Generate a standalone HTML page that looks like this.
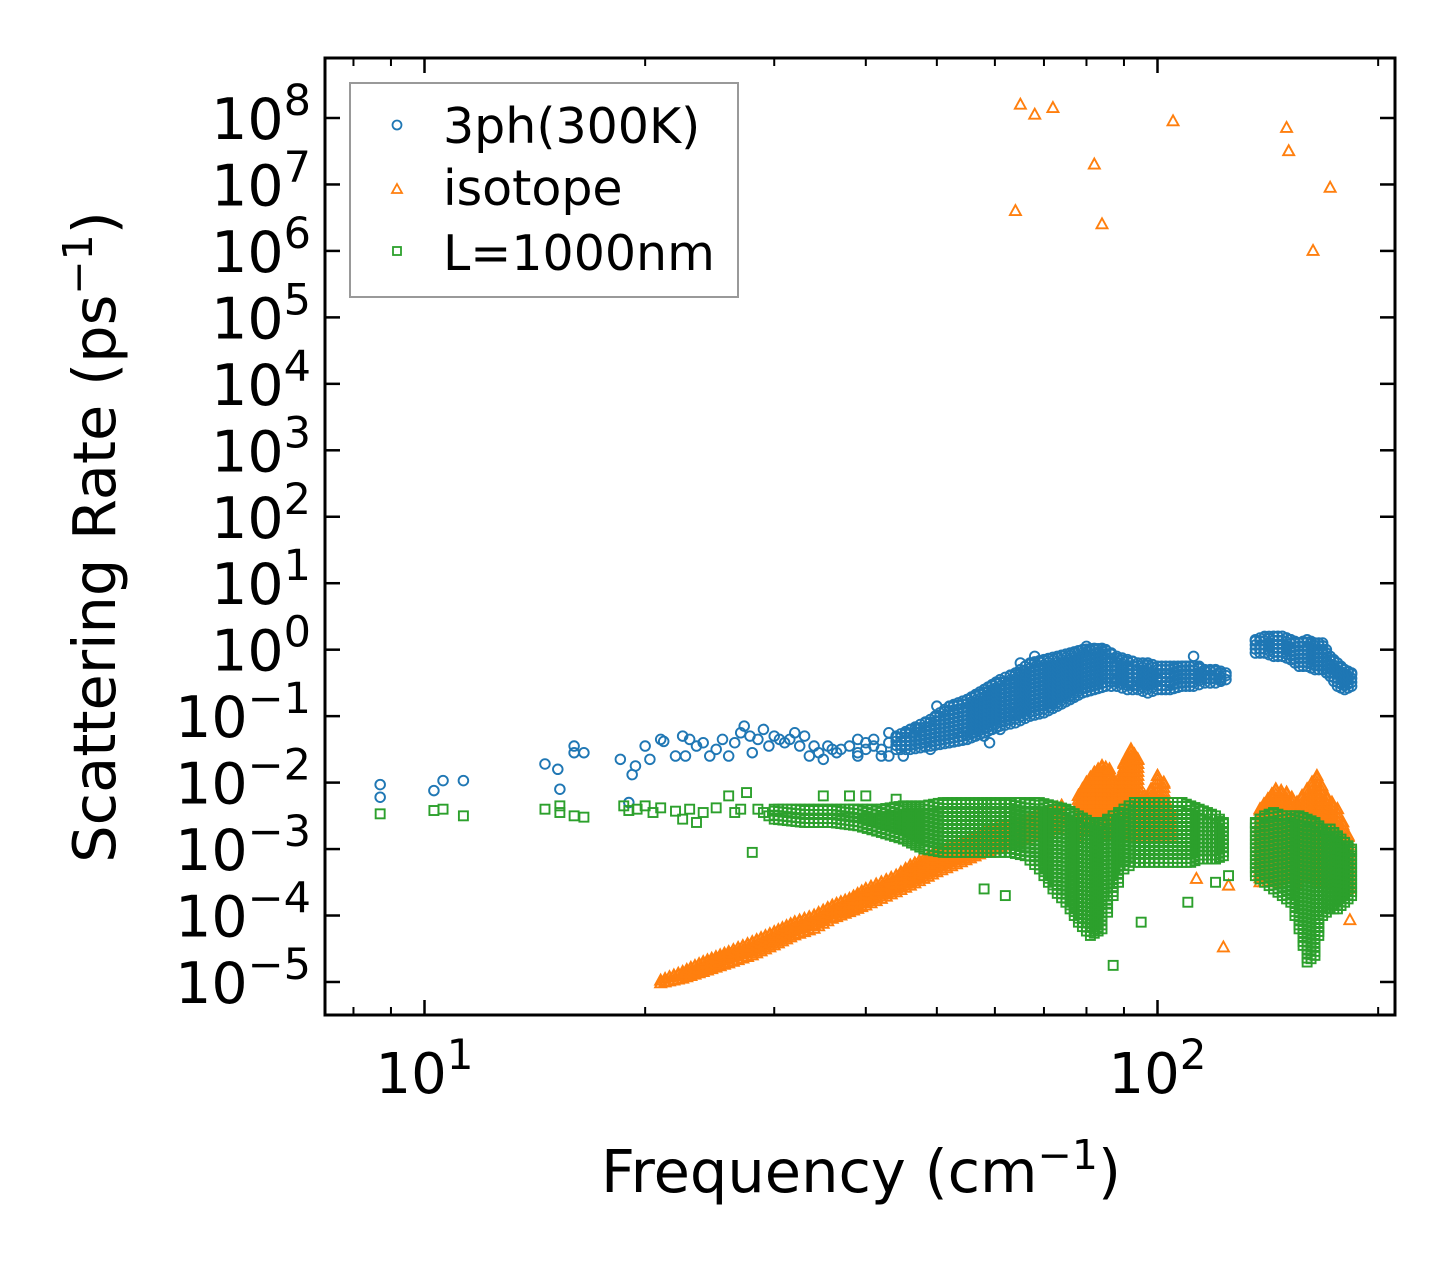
<!DOCTYPE html>
<html><head><meta charset="utf-8"><style>
html,body{margin:0;padding:0;background:#fff}
svg{display:block;font-family:"DejaVu Sans","Liberation Sans",sans-serif}
</style></head><body>
<svg id="chart" width="1455" height="1265" viewBox="0 0 1455 1265" xmlns="http://www.w3.org/2000/svg">
<rect width="1455" height="1265" fill="#fff"/>
<g id="marks"></g>
<g id="axes"></g>
<g>
<rect x="350" y="83" width="388" height="214" fill="#fff" fill-opacity="0.8" stroke="#999" stroke-width="2"/>
<circle cx="397" cy="125" r="4.5" fill="none" stroke="#1f77b4" stroke-width="1.8"/>
<text x="443" y="143" font-size="49">3ph(300K)</text>
<path d="M397,184 L402,193 L392,193 Z" fill="none" stroke="#ff7f0e" stroke-width="1.8"/>
<text x="443" y="205" font-size="49">isotope</text>
<rect x="393" y="247" width="8" height="8" fill="none" stroke="#2ca02c" stroke-width="1.8"/>
<text x="443" y="270" font-size="49">L=1000nm</text>
</g>
<text x="861" y="1192" font-size="59" text-anchor="middle">Frequency (cm<tspan dy="-23" font-size="41">−1</tspan><tspan dy="23">)</tspan></text>
<text transform="translate(115,537) rotate(-90)" font-size="59" text-anchor="middle">Scattering Rate (ps<tspan dy="-23" font-size="41">−1</tspan><tspan dy="23">)</tspan></text>
</svg>
<script>
// ---- data (frequency in cm^-1, value as log10 of scattering rate) ----
const xTickDecades = [1, 2];
const yTickDecades = [8,7,6,5,4,3,2,1,0,-1,-2,-3,-4,-5];
const xMinorTicks = [8,9,20,30,40,50,60,70,80,90,200];

const phFreq = [8.7,8.7,10.3,10.6,11.3,14.6,15.2,15.3,16,16,16.5,18.5,19,19.2,19.4,20,20.3,21,21.2,22,22.5,22.7,23,23.5,24,24.5,25,25.5,26,26.5,27,27.3,27.8,28,28.5,29,29.5,30,30.5,31,31.5,32,32.5,33,33.5,34,34.5,35,35.5,36,36.5,37,38,39,40,41,42];
const phVal  = [-2.03,-2.22,-2.12,-1.97,-1.97,-1.72,-1.8,-2.1,-1.45,-1.55,-1.55,-1.65,-2.3,-1.88,-1.75,-1.45,-1.65,-1.35,-1.38,-1.6,-1.3,-1.6,-1.35,-1.45,-1.4,-1.6,-1.5,-1.35,-1.6,-1.4,-1.25,-1.15,-1.3,-1.55,-1.35,-1.2,-1.45,-1.3,-1.35,-1.4,-1.35,-1.25,-1.45,-1.3,-1.6,-1.45,-1.55,-1.65,-1.45,-1.5,-1.55,-1.5,-1.45,-1.55,-1.4,-1.45,-1.5];
const phCloudFreq = [39,40,41,42,43,43,45,47,49,50,52,54,56,58,59,61,63,65,68,72,76,80,84,88,92,96,100,104,108,112,114,118,122];
const phCloudVals = [[-1.35,-1.6],[-1.5],[-1.35],[-1.6],[-1.6,-1.25],[-1.4],[-1.6],[-1.2],[-1.5],[-0.85],[-1.4],[-1.3],[-1.25],[-1.3],[-1.4],[-1.2],[-0.95],[-0.2],[-0.1],[-0.8],[-0.7],[0.05],[0.02],[-0.45],[-0.5],[-0.5],[-0.45],[-0.5],[-0.5],[-0.1],[-0.25],[-0.5],[-0.45]];
const phBandFreq = [44,46,49,52,55,58,61,64,67,70,73,76,79,82,85,88,91,94,97,100,104,108,112,116,120,124];
const phBandLo = [-1.5,-1.5,-1.45,-1.4,-1.35,-1.25,-1.15,-1.1,-1.0,-0.95,-0.85,-0.75,-0.65,-0.6,-0.55,-0.55,-0.6,-0.6,-0.65,-0.6,-0.6,-0.55,-0.55,-0.5,-0.5,-0.45];
const phBandHi = [-1.3,-1.2,-1.05,-0.85,-0.75,-0.6,-0.45,-0.35,-0.2,-0.15,-0.1,-0.05,0.0,0.02,0.0,-0.1,-0.15,-0.2,-0.2,-0.25,-0.25,-0.25,-0.25,-0.3,-0.3,-0.35];
const phBand2Freq = [136,140,144,148,152,156,160,164,168,172,176,180,184];
const phBand2Lo = [-0.05,-0.05,-0.1,-0.1,-0.15,-0.25,-0.25,-0.3,-0.3,-0.4,-0.55,-0.6,-0.55];
const phBand2Hi = [0.15,0.2,0.2,0.2,0.15,0.1,0.15,0.1,0.1,-0.1,-0.2,-0.3,-0.35];

const isoFreq = [64,65,68,72,82,84,105,150,151,163,172,123,125,113,183];
const isoVal  = [6.6,8.2,8.05,8.15,7.3,6.4,7.95,7.85,7.5,6.0,6.95,-4.48,-3.55,-3.45,-4.07];
const isoBandFreq = [21,22.5,24,26,28,30,32,34,36,38,40,42,44,46,48,50,54,58,62,66,70,74];
const isoBandLo = [-5.02,-4.95,-4.85,-4.72,-4.6,-4.45,-4.3,-4.2,-4.05,-3.95,-3.85,-3.75,-3.65,-3.55,-3.45,-3.35,-3.2,-3.05,-2.95,-2.85,-2.75,-2.65];
const isoBandHi = [-4.98,-4.85,-4.7,-4.55,-4.4,-4.25,-4.1,-4.0,-3.85,-3.75,-3.6,-3.5,-3.4,-3.25,-3.15,-3.05,-2.9,-2.75,-2.65,-2.55,-2.45,-2.35];
const isoSpikeFreq = [78,80,82,84,86,88,90,92,94,96,98,100,102,104];
const isoSpikeLo = [-2.8,-2.8,-2.8,-2.8,-2.8,-2.8,-2.8,-2.8,-2.8,-2.8,-2.8,-2.8,-2.8,-2.8];
const isoSpikeHi = [-2.2,-2.0,-1.85,-1.75,-1.8,-2.1,-1.7,-1.5,-1.65,-2.2,-2.1,-1.9,-2.0,-2.4];
const isoSpike2Freq = [138,145,150,155,160,165,170,176,182];
const isoSpike2Lo = [-3.5,-3.5,-3.5,-3.5,-3.5,-3.5,-3.5,-3.6,-3.6];
const isoSpike2Hi = [-2.4,-2.1,-2.15,-2.3,-2.1,-1.9,-2.2,-2.4,-2.8];

const bFreq = [8.7,10.3,10.6,11.3,14.6,15.3,15.3,16,16.5,18.7,19,19.5,20,20.5,21,22,22.5,23,23.5,24,25,26,26.5,27,27.5,28,28.5,29,29.5,35,38,40,44,58,62,87,95,120,110,125];
const bVal  = [-2.47,-2.42,-2.4,-2.5,-2.4,-2.45,-2.35,-2.5,-2.52,-2.35,-2.42,-2.4,-2.35,-2.45,-2.38,-2.43,-2.55,-2.4,-2.6,-2.45,-2.38,-2.2,-2.45,-2.4,-2.15,-3.05,-2.4,-2.45,-2.5,-2.2,-2.2,-2.2,-2.25,-3.6,-3.7,-4.75,-4.1,-3.5,-3.8,-3.4];
const bBandFreq = [30,33,36,39,42,45,48,51,54,57,60,63,66,69,72,75,78,81,84,87,90,93,96,99,102,105,108,111,114,117,120,123];
const bBandLo = [-2.55,-2.6,-2.6,-2.65,-2.75,-2.85,-3.0,-3.05,-3.05,-3.05,-3.05,-3.05,-3.1,-3.3,-3.6,-3.8,-4.1,-4.3,-4.2,-3.7,-3.3,-3.2,-3.2,-3.2,-3.2,-3.2,-3.2,-3.2,-3.15,-3.15,-3.15,-3.1];
const bBandHi = [-2.4,-2.4,-2.4,-2.4,-2.4,-2.35,-2.35,-2.3,-2.3,-2.3,-2.3,-2.3,-2.3,-2.3,-2.35,-2.4,-2.5,-2.6,-2.6,-2.5,-2.4,-2.3,-2.3,-2.3,-2.3,-2.3,-2.3,-2.35,-2.4,-2.45,-2.5,-2.6];
const bBand2Freq = [136,140,144,148,152,156,160,164,168,172,176,180,184];
const bBand2Lo = [-3.4,-3.5,-3.6,-3.7,-3.8,-4.2,-4.7,-4.6,-4.0,-3.9,-3.9,-3.8,-3.7];
const bBand2Hi = [-2.6,-2.5,-2.45,-2.5,-2.5,-2.5,-2.55,-2.6,-2.7,-2.7,-2.8,-2.9,-3.0];

// ---- axes ----
const X0=325, X1=1395, Y0=58, Y1=1015;
const xDec0=424.5, xDecPx=733;
const yRef=118, yDecPx=66.46;
function xs(f){return xDec0+(Math.log10(f)-1)*xDecPx;}
function ys(l){return yRef-(l-8)*yDecPx;}
const NS='http://www.w3.org/2000/svg';
const marks=document.getElementById('marks');
const axes=document.getElementById('axes');
function mk(tag,attrs,parent){const e=document.createElementNS(NS,tag);for(const k in attrs)e.setAttribute(k,attrs[k]);parent.appendChild(e);return e;}

function circle(f,l,name){
  const e=mk('circle',{cx:xs(f),cy:ys(l),r:4.8,fill:'none',stroke:'#1f77b4','stroke-width':1.9},marks);
  
  
}
function tri(f,l,name){
  const x=xs(f),y=ys(l);
  const e=mk('path',{d:`M${x},${y-6} L${x+5.5},${y+4} L${x-5.5},${y+4} Z`,fill:'none',stroke:'#ff7f0e','stroke-width':1.9},marks);
  
  
}
function sq(f,l,name){
  const x=xs(f),y=ys(l);
  const e=mk('rect',{x:x-4.5,y:y-4.5,width:9,height:9,fill:'none',stroke:'#2ca02c','stroke-width':1.9},marks);
  
  
}
// dense region: markers covering the band
function band(fr,lo,hi,fn,name){
  for(let i=0;i<fr.length;i++){
    const xa=xs(fr[i]);
    const xb=i<fr.length-1?xs(fr[i+1]):xa+1;
    const n=Math.max(1,Math.round((xb-xa)/4.5));
    for(let k=0;k<n;k++){
      const t=k/n;
      const j=i<fr.length-1?i+1:i;
      const l0=lo[i]+(lo[j]-lo[i])*t, l1=hi[i]+(hi[j]-hi[i])*t;
      const f=Math.pow(10,(Math.log10(fr[i])+(Math.log10(fr[j])-Math.log10(fr[i]))*t));
      for(let v=l0; v<=l1+1e-9; v+=0.06) fn(f,v,name);
      fn(f,l1,name);
    }
  }
}
phFreq.forEach((f,i)=>circle(f,phVal[i],'point-3ph'));
phCloudFreq.forEach((f,i)=>phCloudVals[i].forEach(v=>circle(f,v,'point-3ph')));
band(phBandFreq,phBandLo,phBandHi,circle,'point-3ph');
band(phBand2Freq,phBand2Lo,phBand2Hi,circle,'point-3ph');
isoFreq.forEach((f,i)=>tri(f,isoVal[i],'point-isotope'));
band(isoBandFreq,isoBandLo,isoBandHi,tri,'point-isotope');
band(isoSpikeFreq,isoSpikeLo,isoSpikeHi,tri,'point-isotope');
band(isoSpike2Freq,isoSpike2Lo,isoSpike2Hi,tri,'point-isotope');
bFreq.forEach((f,i)=>sq(f,bVal[i],'point-boundary'));
band(bBandFreq,bBandLo,bBandHi,sq,'point-boundary');
band(bBand2Freq,bBand2Lo,bBand2Hi,sq,'point-boundary');

// frame
const fr=mk('rect',{x:X0,y:Y0,width:X1-X0,height:Y1-Y0,fill:'none',stroke:'#000','stroke-width':3},axes);


xTickDecades.forEach(d=>{
  const x=xs(Math.pow(10,d));
  mk('line',{x1:x,y1:Y1,x2:x,y2:Y1-15,stroke:'#000','stroke-width':2.5},axes);
  mk('line',{x1:x,y1:Y0,x2:x,y2:Y0+15,stroke:'#000','stroke-width':2.5},axes);
  const t=mk('text',{x:x,y:1093,'font-size':56,'text-anchor':'middle'},axes);
  
  
  t.innerHTML='10<tspan dy="-24" font-size="42">'+d+'</tspan>';
});
xMinorTicks.forEach(f=>{
  const x=xs(f);
  mk('line',{x1:x,y1:Y1,x2:x,y2:Y1-8,stroke:'#000','stroke-width':2},axes);
  mk('line',{x1:x,y1:Y0,x2:x,y2:Y0+8,stroke:'#000','stroke-width':2},axes);
});
yTickDecades.forEach(d=>{
  const y=ys(d);
  mk('line',{x1:X0,y1:y,x2:X0+15,y2:y,stroke:'#000','stroke-width':2.5},axes);
  mk('line',{x1:X1,y1:y,x2:X1-15,y2:y,stroke:'#000','stroke-width':2.5},axes);
  const t=mk('text',{x:311,y:y+21,'font-size':57,'text-anchor':'end'},axes);
  
  
  const lab=d<0?'−'+(-d):''+d;
  t.innerHTML='10<tspan dy="-24" font-size="43">'+lab+'</tspan>';
});
</script>
</body></html>
